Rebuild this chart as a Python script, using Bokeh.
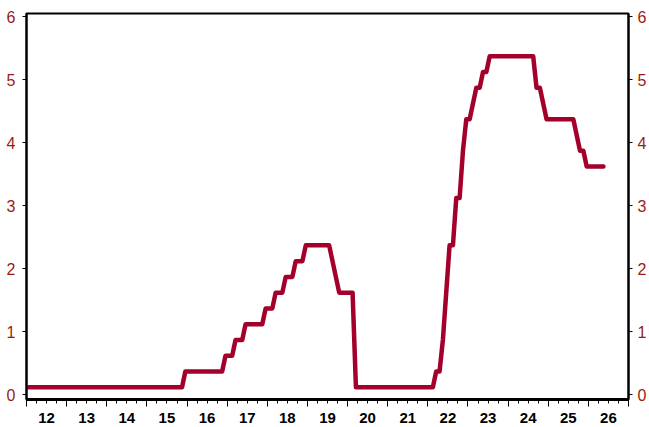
from bokeh.plotting import figure
from bokeh.models import LinearAxis, FixedTicker, Range1d, CustomJSTickFormatter
from bokeh.embed import file_html
from bokeh.resources import INLINE

# ---- data (monthly policy rate, %) ----
start_year = 12  # two-digit year of first month (Jan 2012)
rate = (
    [0.12] * 12 +                                   # 2012
    [0.12] * 12 +                                   # 2013
    [0.12] * 12 +                                   # 2014
    [0.12] * 11 + [0.37] +                          # 2015
    [0.37] * 11 + [0.62] +                          # 2016
    [0.62] * 2 + [0.87] * 3 + [1.12] * 6 + [1.37] + # 2017
    [1.37] * 2 + [1.62] * 3 + [1.87] * 3 + [2.12] * 3 + [2.37] +  # 2018
    [2.37] * 7 + [2.12, 1.87] + [1.62] * 3 +        # 2019
    [1.62] * 2 + [0.12] * 10 +                      # 2020
    [0.12] * 12 +                                   # 2021
    [0.12, 0.12, 0.37, 0.37, 0.87, 1.62, 2.37, 2.37, 3.12, 3.12, 3.87, 4.37] +  # 2022
    [4.37, 4.62, 4.87, 4.87, 5.12, 5.12] + [5.37] * 6 +  # 2023
    [5.37] * 8 + [4.87, 4.87, 4.62, 4.37] +         # 2024
    [4.37] * 8 + [4.12, 3.87, 3.87, 3.62] +         # 2025
    [3.62] * 5                                      # 2026 (Jan-May)
)
months = [start_year + (i + 0.5) / 12 for i in range(len(rate))]

year_ticks = list(range(12, 28))
quarter_ticks = [y + q / 4 for y in range(12, 27) for q in range(1, 4)]
label_pos = [y + 0.5 for y in range(12, 27)]
year_labels = [str(y) for y in range(12, 27)]
y_ticks = [0, 1, 2, 3, 4, 5, 6]

LINE = "#a3002b"
LABEL_RED = "#9a1c12"
FONT = "Liberation Sans"

p = figure(width=649, height=427, output_backend="svg", toolbar_location=None,
           x_range=Range1d(12, 27), y_range=Range1d(-0.075, 6.048),
           x_axis_location=None, y_axis_location=None,
           min_border_left=26, min_border_right=17, min_border_top=13, min_border_bottom=28)
p.grid.visible = False
p.outline_line_color = "black"
p.outline_line_width = 2
p.background_fill_color = "white"
p.border_fill_color = "white"

p.line(months, rate, line_color=LINE, line_width=4.5, line_join="round", line_cap="round")

def yaxis(standoff):
    return LinearAxis(ticker=FixedTicker(ticks=y_ticks),
                      major_tick_out=4, major_tick_in=0, minor_tick_out=0, minor_tick_in=0,
                      axis_line_color="black", axis_line_width=2,
                      major_tick_line_color="black", major_tick_line_width=1,
                      major_label_standoff=standoff,
                      major_label_text_font=FONT, major_label_text_font_style="normal",
                      major_label_text_font_size="16px", major_label_text_color=LABEL_RED)

p.add_layout(yaxis(7), "left")
p.add_layout(yaxis(5), "right")

ax_ticks = LinearAxis(ticker=FixedTicker(ticks=year_ticks, minor_ticks=quarter_ticks),
                      major_tick_out=7, major_tick_in=0, minor_tick_out=4, minor_tick_in=0,
                      axis_line_color="black", axis_line_width=3,
                      major_tick_line_color="black", major_tick_line_width=1,
                      minor_tick_line_color="black", minor_tick_line_width=1,
                      major_label_standoff=0, major_label_text_font_size="1px",
                      formatter=CustomJSTickFormatter(code="return '';"))
p.add_layout(ax_ticks, "below")

ax_labels = LinearAxis(ticker=FixedTicker(ticks=label_pos),
                       major_tick_out=0, major_tick_in=0, minor_tick_out=0, minor_tick_in=0,
                       axis_line_color=None, major_tick_line_color=None, minor_tick_line_color=None,
                       major_label_standoff=6,
                       major_label_text_font=FONT, major_label_text_font_style="bold",
                       major_label_text_font_size="15px", major_label_text_color="black",
                       formatter=CustomJSTickFormatter(args=dict(labels=year_labels),
                                                       code="return labels[index];"))
p.add_layout(ax_labels, "below")

open("out.html", "w").write(file_html(p, INLINE))
